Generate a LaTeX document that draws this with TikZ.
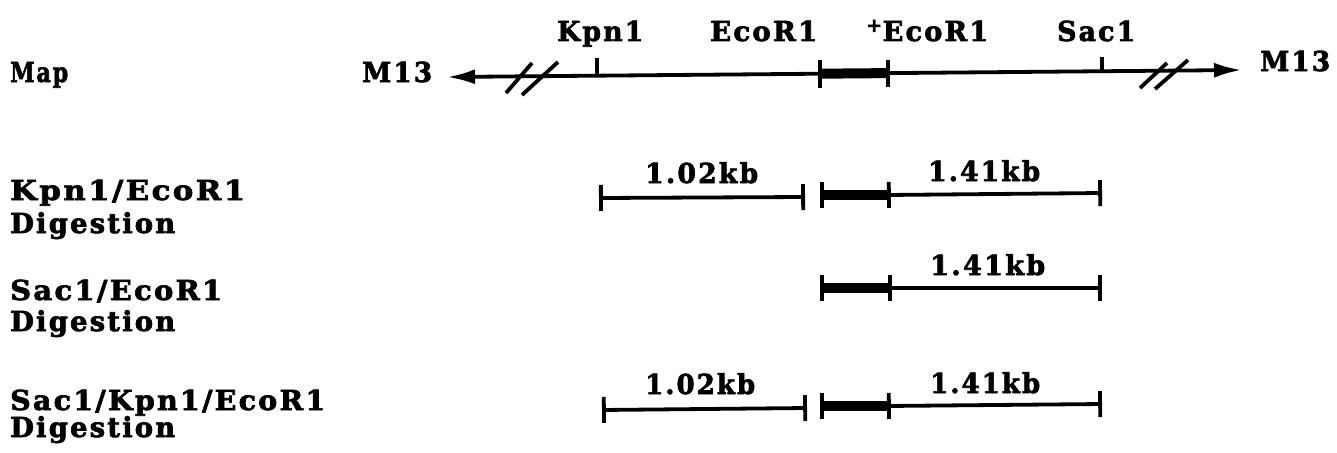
\documentclass[tikz,border=0pt]{standalone}
\usepackage{fontspec}
\newfontfamily\lblfont{DejaVu Serif Bold}[LetterSpace=8,FakeBold=2.4]
\usepackage{graphicx}
\usetikzlibrary{arrows.meta}
\newsavebox\fitbox
\newdimen\fitdim
\newcommand\fitw[2]{\sbox\fitbox{#2}\fitdim=\wd\fitbox\pgfmathsetmacro\fitfac{#1/\fitdim}\scalebox{\fitfac}[1]{\usebox\fitbox}}
\begin{document}
\begin{tikzpicture}[x=1pt,y=-1pt,
  lbl/.style={inner sep=0pt,anchor=base west,font=\lblfont\fontsize{27.5}{32}\selectfont},
  thinln/.style={line width=3.8pt},
  thickln/.style={line width=10pt},
  tk/.style={line width=3.8pt},
  barL/.style={thinln,{Bar[width=26pt]}-},
  barLR/.style={thinln,{Bar[width=26pt]}-{Bar[width=26pt]}},
  arr/.style={thinln,{Latex[length=28pt,width=15pt]}-{Latex[length=28pt,width=15pt]}}]
\useasboundingbox (0,0) rectangle (1337,452);
% ---- labels ----
\node[lbl] (map)  at (10,82)   {\fitw{58}{Map}};
\node[lbl] (m13l) at (362,82)  {\fitw{70}{M13}};
\node[lbl] (kpn)  at (557,41)  {\fitw{86}{Kpn1}};
\node[lbl] (eco)  at (710,41)  {\fitw{107}{EcoR1}};
\node[lbl] (peco) at (866,41)  {\fitw{122}{\textsuperscript{+}EcoR1}};
\node[lbl] (sac)  at (1057,41) {\fitw{78}{Sac1}};
\node[lbl] (m13r) at (1260,71) {\fitw{70}{M13}};
\node[lbl] (r1a) at (10,200) {\fitw{235}{Kpn1/EcoR1}};
\node[lbl] (r1b) at (10,233) {\fitw{165}{Digestion}};
\node[lbl] (r2a) at (10,300) {\fitw{212}{Sac1/EcoR1}};
\node[lbl] (r2b) at (10,331) {\fitw{165}{Digestion}};
\node[lbl] (r3a) at (10,410) {\fitw{315}{Sac1/Kpn1/EcoR1}};
\node[lbl] (r3b) at (10,437) {\fitw{165}{Digestion}};
\node[lbl] (k1a) at (645,183) {\fitw{113}{1.02kb}};
\node[lbl] (k1b) at (928,181) {\fitw{112}{1.41kb}};
\node[lbl] (k2b) at (930,275) {\fitw{115}{1.41kb}};
\node[lbl] (k3a) at (645,394) {\fitw{110}{1.02kb}};
\node[lbl] (k3b) at (930,393) {\fitw{110}{1.41kb}};
% ---- map line ----
\coordinate (lt) at (447,77);
\coordinate (rt) at (1242,70);
\coordinate (e1) at (820,73.7);
\coordinate (e2) at (888,73.1);
\draw[arr] (lt) -- (rt);
\draw[thickln] (e1) -- (e2);
\coordinate (e1t) at (820,60); \coordinate (e1b) at (820,88);
\coordinate (e2t) at (888,60); \coordinate (e2b) at (888,87);
\draw[tk] (e1t) -- (e1b);
\draw[tk] (e2t) -- (e2b);
\coordinate (kt) at (597,58); \coordinate (kb) at (597,76);
\coordinate (st) at (1102,57); \coordinate (sb) at (1102,71.5);
\draw[tk] (kt) -- (kb);
\draw[tk] (st) -- (sb);
% break marks
\coordinate (s1a) at (506,93);  \coordinate (s1b) at (532,63);
\coordinate (s2a) at (522,95);  \coordinate (s2b) at (558,62);
\coordinate (s3a) at (1140,88); \coordinate (s3b) at (1167,63);
\coordinate (s4a) at (1155,89); \coordinate (s4b) at (1188,60);
\draw[tk] (s1a) -- (s1b);
\draw[tk] (s2a) -- (s2b);
\draw[tk] (s3a) -- (s3b);
\draw[tk] (s4a) -- (s4b);
% ---- row 1 ----
\coordinate (a1) at (599,198); \coordinate (a2) at (805,197);
\draw[barLR] (a1) -- (a2);
\coordinate (b1) at (820,195); \coordinate (b2) at (887,195); \coordinate (b3) at (1102,193);
\draw[thickln] (b1) -- (b2);
\draw[barL] (b1) -- (b2);
\draw[barLR] (b2) -- (b3);
% ---- row 2 ----
\coordinate (c1) at (820,288); \coordinate (c2) at (888,288); \coordinate (c3) at (1102,288);
\draw[thickln] (c1) -- (c2);
\draw[barL] (c1) -- (c2);
\draw[barLR] (c2) -- (c3);
% ---- row 3 ----
\coordinate (d1) at (602,410); \coordinate (d2) at (807,408);
\draw[barLR] (d1) -- (d2);
\coordinate (f1) at (820,406); \coordinate (f2) at (887,406); \coordinate (f3) at (1102,404);
\draw[thickln] (f1) -- (f2);
\draw[barL] (f1) -- (f2);
\draw[barLR] (f2) -- (f3);
\end{tikzpicture}
\end{document}
